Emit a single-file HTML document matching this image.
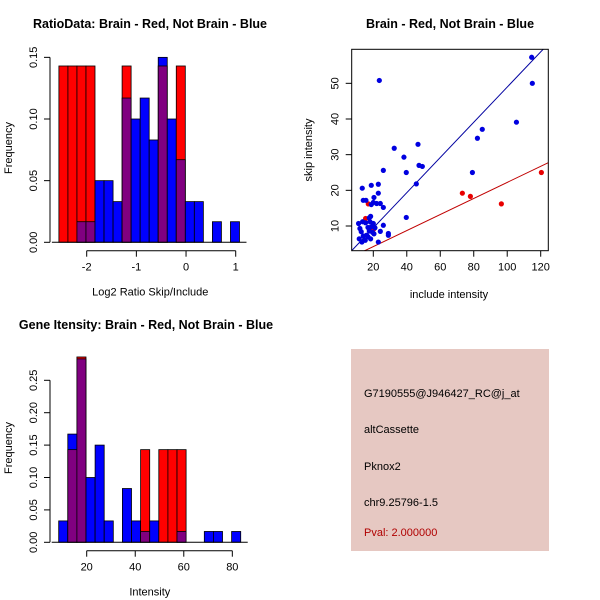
<!DOCTYPE html>
<html><head><meta charset="utf-8"><style>
body{margin:0;background:#fff}
svg{display:block;font-family:"Liberation Sans",sans-serif}
</style></head><body>
<svg id="c" width="600" height="600" xmlns="http://www.w3.org/2000/svg">
<rect width="600" height="600" fill="#fff"/>
<g>
<rect x="351" y="349" width="198" height="202" fill="#e6c8c2"/>
<text x="364" y="397" font-size="11" fill="#000">G7190555@J946427_RC@j_at</text>
<text x="364" y="433" font-size="11" fill="#000">altCassette</text>
<text x="364" y="470" font-size="11" fill="#000">Pknox2</text>
<text x="364" y="506" font-size="11" fill="#000">chr9.25796-1.5</text>
<text x="364" y="536" font-size="11" fill="#b00000">Pval: 2.000000</text>
</g>
</svg>
<script>
// ---- Ratio histogram data ----
const ratioBinStart = -2.56;
const ratioBinWidth = 0.1818;
const ratioRed = [0.143,0.143,0.143,0.143,0,0,0,0.143,0,0,0,0.143,0,0.143,0,0,0,0,0,0];
const ratioBlue = [0,0,0.0167,0.0167,0.05,0.05,0.033,0.117,0.1,0.117,0.083,0.15,0.1,0.067,0.033,0.033,0,0.0167,0,0.0167];
const ratioYTicks = [0,0.05,0.10,0.15];
const ratioYLabels = ["0.00","0.05","0.10","0.15"];
const ratioXTicks = [-2,-1,0,1];
// ---- Intensity histogram data ----
const intBinStart = 8.46;
const intBinWidth = 3.75;
const intRed = [0,0.143,0.286,0,0,0,0,0,0,0.143,0,0.143,0.143,0.143,0,0,0,0,0,0];
const intBlue = [0.033,0.167,0.283,0.1,0.15,0.033,0,0.083,0.033,0.0167,0.033,0,0,0.0167,0,0,0.0167,0.0167,0,0.0167];
const intYTicks = [0,0.05,0.10,0.15,0.20,0.25];
const intYLabels = ["0.00","0.05","0.10","0.15","0.20","0.25"];
const intXTicks = [20,40,60,80];
// ---- Scatter data ----
const blueInclude = [114.6,115,23.6,105.5,85.1,82.2,79.2,32.5,38.3,46.7,47.3,49.3,39.7,26,45.7,39.7,13.4,18.8,23,23,14,15.6,20.4,20,18.8,22,24.2,26,26,29,29,24.2,23,11.2,12,12.8,11.6,13.2,14,15.2,13.6,15.4,16.8,17.6,18.4,18,18.8,20,20.4,18.4,16.8,17.6,19.6,16,21];
const blueSkip = [57.3,50,50.8,39.1,37.1,34.6,25,31.8,29.3,32.9,27,26.7,25,25.6,21.8,12.4,20.6,21.4,21.7,19.2,17.2,17.2,18,16.6,16,16.3,16.3,15.2,10.2,7.9,7.4,8.5,5.5,10.7,9.3,8.4,6.4,5.5,7.2,6,11.2,10.9,9.6,12.3,12.7,11.2,9.8,10.7,7.8,6.4,7,8.6,8.2,7.4,9.5];
const redInclude = [17,15.4,20.2,73.2,78,96.5,120.4];
const redSkip = [16.2,12.1,9.1,19.2,18.3,16.2,25];
const blueFit = [-0.40,0.4935];
const redFit = [-0.27,0.225];
const scXTicks = [20,40,60,80,100,120];
const scYTicks = [10,20,30,40,50];

const NS="http://www.w3.org/2000/svg";
const svg=document.getElementById('c');
function mk(tag,attrs,parent){const e=document.createElementNS(NS,tag);for(const k in attrs)e.setAttribute(k,attrs[k]);(parent||svg).appendChild(e);return e;}
function txt(x,y,s,size,opts,parent){const e=mk('text',Object.assign({x:x,y:y,'font-size':size,fill:'#000'},opts||{}),parent);e.textContent=s;return e;}

function hist(cfg){
  const g=mk('g',{});
  
  
  const X=v=>cfg.x0px+(v-cfg.x0)*cfg.xs, Y=v=>cfg.y0px-v*cfg.ys;
  for(let i=0;i<cfg.red.length;i++){
    const l=X(cfg.start+i*cfg.w), r=X(cfg.start+(i+1)*cfg.w);
    const rv=cfg.red[i], bv=cfg.blue[i], mx=Math.max(rv,bv), mn=Math.min(rv,bv);
    if(mx<=0) continue;
    const top=mk('rect',{x:l,y:Y(mx),width:r-l,height:Y(0)-Y(mx),fill:rv>=bv?'#ff0000':'#0000ff',stroke:'#000','stroke-width':0.8},g);
    
    
    if(mn>0){
      const p=mk('rect',{x:l,y:Y(mn),width:r-l,height:Y(0)-Y(mn),fill:'#800080',stroke:'#000','stroke-width':0.8},g);
      
      
    }
  }
  const ya=mk('g',{});
  const yt=cfg.yTicks;
  mk('line',{x1:cfg.yAxisX,x2:cfg.yAxisX,y1:Y(yt[0]),y2:Y(yt[yt.length-1]),stroke:'#000'},ya);
  yt.forEach((v,i)=>{mk('line',{x1:cfg.yAxisX-6,x2:cfg.yAxisX,y1:Y(v),y2:Y(v),stroke:'#000'},ya);
    txt(0,0,cfg.yLabels[i],11,{'text-anchor':'middle',transform:`translate(${cfg.yAxisX-13},${Y(v)}) rotate(-90)`},ya);});
  const xa=mk('g',{});
  const xt=cfg.xTicks;
  mk('line',{x1:X(xt[0]),x2:X(xt[xt.length-1]),y1:cfg.xAxisY,y2:cfg.xAxisY,stroke:'#000'},xa);
  xt.forEach(v=>{mk('line',{x1:X(v),x2:X(v),y1:cfg.xAxisY,y2:cfg.xAxisY+6,stroke:'#000'},xa);
    txt(X(v),cfg.xAxisY+20,String(v),11,{'text-anchor':'middle'},xa);});
  mk('line',{x1:X(cfg.start)-7,x2:X(cfg.start+cfg.red.length*cfg.w)+7,y1:Y(0),y2:Y(0),stroke:'#000'},g);
  const tt=txt(cfg.titleX,cfg.titleY,cfg.title,12.5,{'font-weight':'bold','text-anchor':'middle'});
  
  const xl=txt(cfg.x0px+(cfg.xlabelAt-cfg.x0)*cfg.xs,cfg.xAxisY+45,cfg.xlabel,11,{'text-anchor':'middle'});
  
  const yl=txt(0,0,'Frequency',11,{'text-anchor':'middle',transform:`translate(12,${cfg.ylabelY}) rotate(-90)`});
  
}

hist({name:'ratio-histogram',red:ratioRed,blue:ratioBlue,start:ratioBinStart,w:ratioBinWidth,
  x0:-2,x0px:86.7,xs:49.67,y0px:242.3,ys:1233,yTicks:ratioYTicks,yLabels:ratioYLabels,xTicks:ratioXTicks,
  yAxisX:50,xAxisY:250.7,title:'RatioData: Brain - Red, Not Brain - Blue',titleX:150,titleY:28,
  xlabel:'Log2 Ratio Skip/Include',xlabelAt:-0.72,ylabelY:148});
hist({name:'intensity-histogram',red:intRed,blue:intBlue,start:intBinStart,w:intBinWidth,
  x0:20,x0px:86.7,xs:2.427,y0px:542.3,ys:648,yTicks:intYTicks,yLabels:intYLabels,xTicks:intXTicks,
  yAxisX:50,xAxisY:550.7,title:'Gene Itensity: Brain - Red, Not Brain - Blue',titleX:146,titleY:329,
  xlabel:'Intensity',xlabelAt:46,ylabelY:448});

(function(){
  const g=mk('g',{});
  
  
  const L=351.7,R=548.3,T=49.3,B=250.7;
  const X=v=>373.3+(v-20)*1.674, Y=v=>226-(v-10)*3.567;
  mk('clipPath',{id:'sc'},g);
  mk('rect',{x:L,y:T,width:R-L,height:B-T},g.lastChild);
  const xmin=20+(L-373.3)/1.674, xmax=20+(R-373.3)/1.674;
  [[blueFit,'#0000a0'],[redFit,'#c00000']].forEach(([f,c],k)=>{
    const ln=mk('line',{x1:X(xmin),y1:Y(f[0]+f[1]*xmin),x2:X(xmax),y2:Y(f[0]+f[1]*xmax),stroke:c,'stroke-width':1,'clip-path':'url(#sc)'},g);
    
    
  });
  redInclude.forEach((v,i)=>{const c=mk('circle',{cx:X(v),cy:Y(redSkip[i]),r:2.6,fill:'#e80000'},g);
    
    });
  blueInclude.forEach((v,i)=>{const c=mk('circle',{cx:X(v),cy:Y(blueSkip[i]),r:2.6,fill:'#0000e0'},g);
    
    });
  mk('rect',{x:L,y:T,width:R-L,height:B-T,fill:'none',stroke:'#000'},g);
  const xa=mk('g',{},g);
  scXTicks.forEach(v=>{mk('line',{x1:X(v),x2:X(v),y1:B,y2:B+6,stroke:'#000'},xa);txt(X(v),B+20,String(v),11,{'text-anchor':'middle'},xa);});
  const ya=mk('g',{},g);
  scYTicks.forEach(v=>{mk('line',{x1:L-6,x2:L,y1:Y(v),y2:Y(v),stroke:'#000'},ya);
    txt(0,0,String(v),11,{'text-anchor':'middle',transform:`translate(${L-13},${Y(v)}) rotate(-90)`},ya);});
  const t=txt(450,28,'Brain - Red, Not Brain - Blue',12.5,{'font-weight':'bold','text-anchor':'middle'});
  
  const xl=txt(449,298,'include intensity',11,{'text-anchor':'middle'});
  
  const yl=txt(0,0,'skip intensity',11,{'text-anchor':'middle',transform:'translate(312,150) rotate(-90)'});
  
})();
</script>
</body></html>
